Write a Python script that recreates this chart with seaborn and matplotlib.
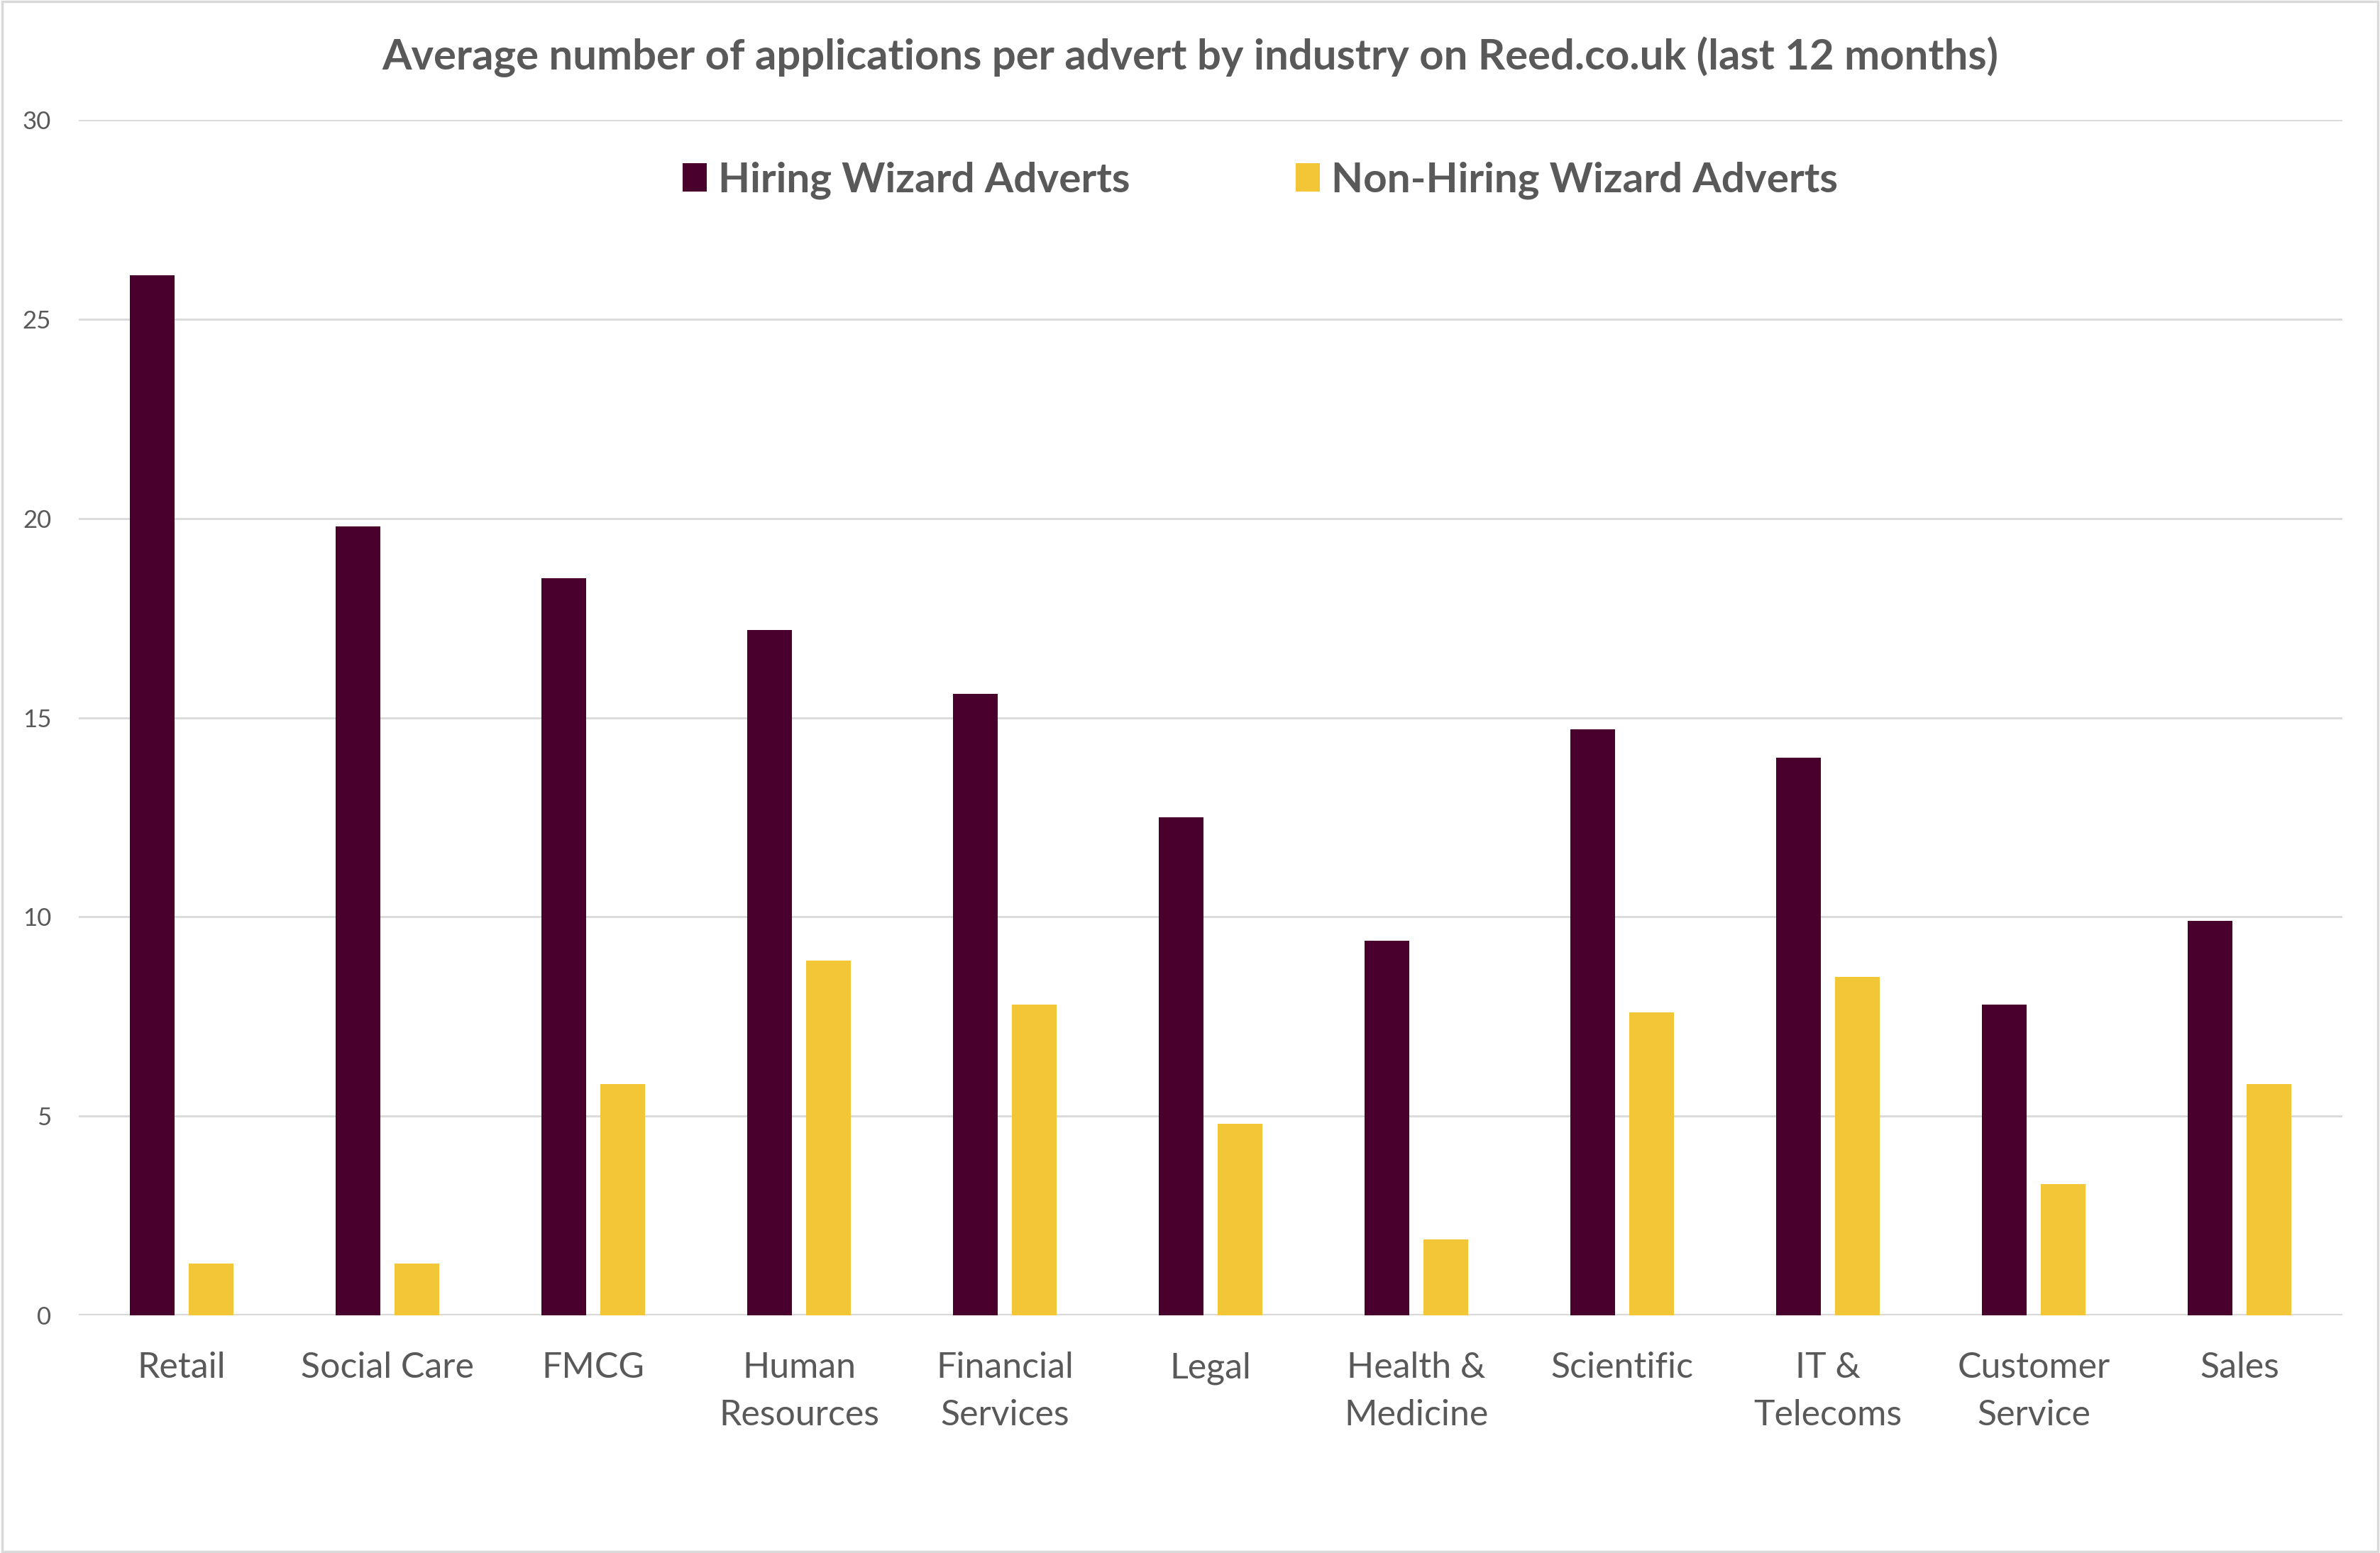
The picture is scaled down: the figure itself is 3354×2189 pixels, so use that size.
import matplotlib
matplotlib.use("Agg")
import matplotlib.pyplot as plt
import seaborn as sns
import pandas as pd
from matplotlib.patches import Rectangle

categories = ["Retail", "Social Care", "FMCG", "Human\nResources", "Financial\nServices",
              "Legal", "Health &\nMedicine", "Scientific", "IT &\nTelecoms",
              "Customer\nService", "Sales"]
hiring_wizard = [26.1, 19.8, 18.5, 17.2, 15.6, 12.5, 9.4, 14.7, 14.0, 7.8, 9.9]
non_hiring_wizard = [1.3, 1.3, 5.8, 8.9, 7.8, 4.8, 1.9, 7.6, 8.5, 3.3, 5.8]
series_names = ["Hiring Wizard Adverts", "Non-Hiring Wizard Adverts"]
y_ticks = [0, 5, 10, 15, 20, 25, 30]
title = "Average number of applications per advert by industry on Reed.co.uk (last 12 months)"

colors = ["#4A002C", "#F2C637"]
text_color = "#595959"
grid_color = "#D9D9D9"

df = pd.DataFrame({
    "Industry": categories * 2,
    "Value": hiring_wizard + non_hiring_wizard,
    "Series": [series_names[0]] * len(categories) + [series_names[1]] * len(categories),
})

sns.set_theme(style="white")
plt.rcParams["font.family"] = ["Lato", "DejaVu Sans"]

fig = plt.figure(figsize=(33.54, 21.89), dpi=100)
fig.patch.set_facecolor("white")
ax = fig.add_axes([0.0331, 0.1530, 0.9511, 0.7698])

sns.barplot(data=df, x="Industry", y="Value", hue="Series", order=categories,
            hue_order=series_names, palette=colors, saturation=1,
            width=0.572, gap=0.23, linewidth=0, errorbar=None, ax=ax)

handles, labels = ax.get_legend_handles_labels()
if ax.get_legend() is not None:
    ax.get_legend().remove()

ax.set_xlim(-0.5, len(categories) - 0.5)
ax.set_ylim(0, 30)
ax.set_yticks(y_ticks)
ax.set_yticklabels([str(t) for t in y_ticks])
ax.set_xlabel("")
ax.set_ylabel("")
for s in ax.spines.values():
    s.set_visible(False)
ax.yaxis.grid(True, color=grid_color, linewidth=2)
ax.xaxis.grid(False)
ax.set_axisbelow(True)
ax.axhline(0, color=grid_color, linewidth=3, zorder=0.5)

ax.tick_params(axis="x", length=0, pad=37, labelsize=36, labelcolor=text_color)
ax.tick_params(axis="y", length=0, pad=28, labelsize=25, labelcolor=text_color)
for lbl in ax.get_xticklabels():
    lbl.set_linespacing(1.55)
    lbl.set_verticalalignment("top")

fig.text(0.5, 0.9635, title, ha="center", va="center", fontsize=43,
         fontweight="bold", color=text_color)

leg = fig.legend(handles, labels, loc="center", bbox_to_anchor=(0.5296, 0.8838),
                 ncol=2, frameon=False, handlelength=0.58,
                 handleheight=0.67, handletextpad=0.28, columnspacing=4.0,
                 prop={"weight": "bold", "size": 42})
for t in leg.get_texts():
    t.set_color(text_color)

fig.add_artist(Rectangle((0.001, 0.001), 0.998, 0.998, transform=fig.transFigure,
                         fill=False, edgecolor=grid_color, linewidth=2.5))

fig.savefig("out.png", dpi=100, facecolor="white")
